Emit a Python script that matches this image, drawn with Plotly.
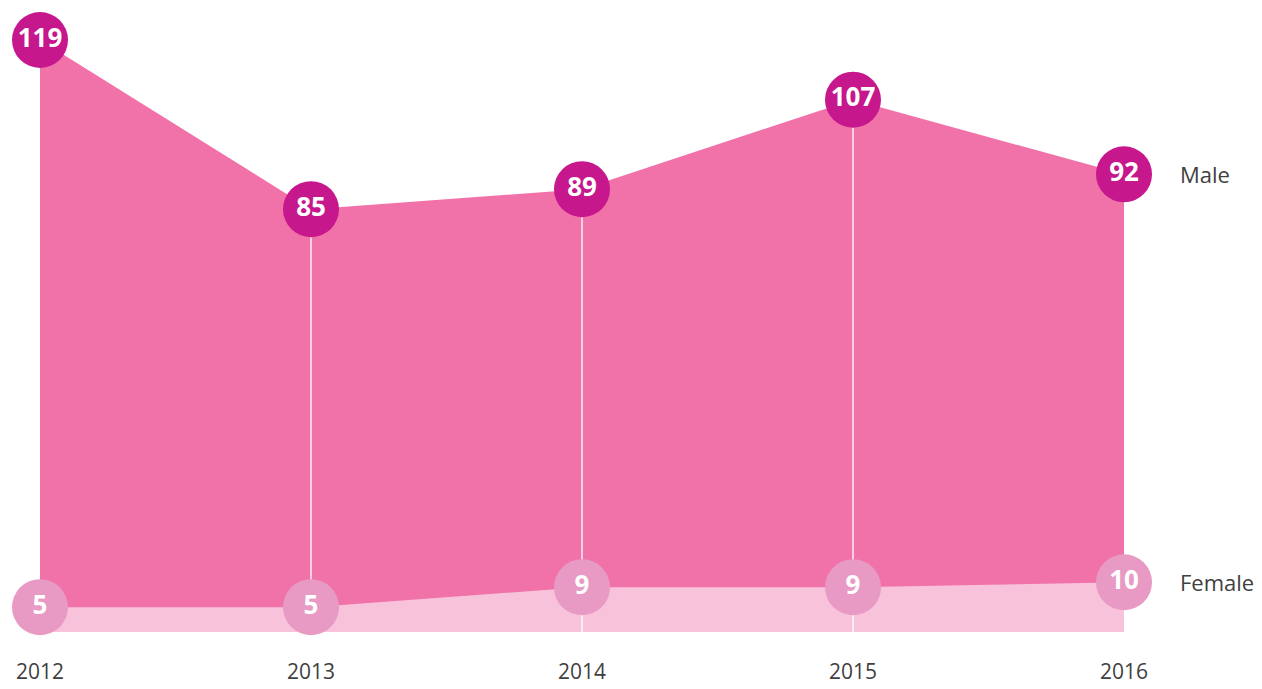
import plotly.graph_objects as go

# Yearly counts by sex
years = [2012, 2013, 2014, 2015, 2016]
male = [119, 85, 89, 107, 92]
female = [5, 5, 9, 9, 10]
series_names = ["Male", "Female"]

MALE_AREA = "#F072A9"
MALE_DOT = "#C6178D"
FEMALE_AREA = "#F7C2DA"
FEMALE_DOT = "#E899C4"
TEXT = "#3F3F3F"
FONT = "Open Sans"

fig = go.Figure()

# Male area (filled down to zero), female area drawn over it
fig.add_trace(go.Scatter(
    x=years, y=male, mode="lines", line=dict(width=0, color=MALE_AREA),
    fill="tozeroy", fillcolor=MALE_AREA, hoverinfo="skip", showlegend=False))
fig.add_trace(go.Scatter(
    x=years, y=female, mode="lines", line=dict(width=0, color=FEMALE_AREA),
    fill="tozeroy", fillcolor=FEMALE_AREA, hoverinfo="skip", showlegend=False))

# Thin white drop lines at the inner years
for yr, v in zip(years[1:-1], male[1:-1]):
    fig.add_trace(go.Scatter(
        x=[yr, yr], y=[0, v], mode="lines",
        line=dict(color="white", width=1.3),
        hoverinfo="skip", showlegend=False, cliponaxis=False))

# Value bubbles
for vals, dot in ((male, MALE_DOT), (female, FEMALE_DOT)):
    fig.add_trace(go.Scatter(
        x=years, y=vals, mode="markers+text",
        marker=dict(size=56, color=dot, line=dict(width=0)),
        text=[str(v) for v in vals], textposition="middle center",
        textfont=dict(family=FONT, size=26, color="white", weight="bold"),
        cliponaxis=False, showlegend=False))

# Series names to the right of the last year
for name, vals in zip(series_names, (male, female)):
    fig.add_annotation(
        x=years[-1], y=vals[-1], text=name, showarrow=False,
        xanchor="left", yanchor="middle", xshift=54,
        font=dict(family=FONT, size=22, color=TEXT))

fig.update_xaxes(
    range=[years[0], years[-1]], tickvals=years, ticktext=[str(y) for y in years],
    showgrid=False, zeroline=False, showline=False, ticks="",
    ticklabelstandoff=25, automargin=False,
    tickfont=dict(family=FONT, size=21, color=TEXT))
fig.update_yaxes(
    range=[0, 119], showgrid=False, zeroline=False, showline=False,
    showticklabels=False, ticks="", automargin=False)

fig.update_layout(
    width=1262, height=689,
    margin=dict(l=40, r=138, t=40, b=57),
    paper_bgcolor="white", plot_bgcolor="white",
    showlegend=False)

fig.write_html("out.html")
